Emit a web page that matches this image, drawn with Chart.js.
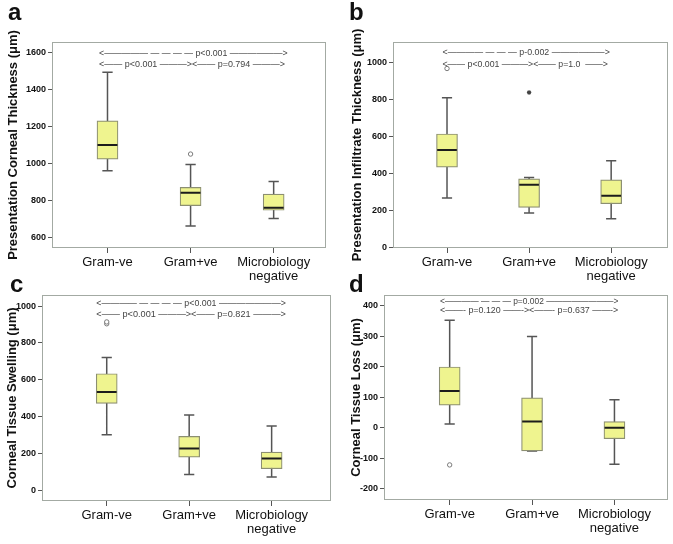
<!DOCTYPE html>
<html>
<head>
<meta charset="utf-8">
<script src="https://cdn.jsdelivr.net/npm/chart.js@4.4.1/dist/chart.umd.min.js"></script>
<style>
  body { margin: 0; background: #fff; width: 673px; height: 544px; overflow: hidden; position: relative; }
  canvas { position: absolute; }
  .tag { position: absolute; font: bold 24px/24px "Liberation Sans", Arial, sans-serif; color: #111; }
</style>
</head>
<body>
<canvas id="chartA" width="336" height="290" style="left:0;top:0"></canvas>
<canvas id="chartB" width="337" height="290" style="left:336px;top:0"></canvas>
<canvas id="chartC" width="336" height="272" style="left:0;top:272px"></canvas>
<canvas id="chartD" width="337" height="272" style="left:336px;top:272px"></canvas>
<div class="tag" style="left:8px;top:0">a</div>
<div class="tag" style="left:349px;top:0">b</div>
<div class="tag" style="left:10px;top:272px">c</div>
<div class="tag" style="left:349px;top:272px">d</div>
<script>
// --- DATA ---
const categories = [['Gram-ve'], ['Gram+ve'], ['Microbiology', 'negative']];
const categoryPos = [1, 2, 3];

// a. presentation corneal thickness
const cornealMin = [962, 663, 703];
const cornealQ1 = [1024, 773, 748];
const cornealMedian = [1101, 843, 762];
const cornealQ3 = [1232, 872, 835];
const cornealMax = [1494, 995, 903];
const cornealOutliers = [[], [1052], []];
const cornealTicks = [600, 800, 1000, 1200, 1400, 1600];
const cornealNotes = ['<————— — — — — p<0.001 ——————>', '<—— p<0.001 ———><—— p=0.794 ———>'];

// b. presentation infiltrate thickness
const infiltrateMin = [267, 187, 156];
const infiltrateQ1 = [434, 217, 237];
const infiltrateMedian = [527, 339, 280];
const infiltrateQ3 = [613, 371, 366];
const infiltrateMax = [808, 378, 468];
const infiltrateOutliers = [[966], [], []];
const infiltrateExtremes = [[], [837], []];
const infiltrateTicks = [0, 200, 400, 600, 800, 1000];
const infiltrateNotes = ['<———— — — — p-0.002 ——————>', '<—— p<0.001 ———><—— p=1.0  ——>'];

// c. corneal tissue swelling
const swellingMin = [302, 87, 73];
const swellingQ1 = [472, 181, 118];
const swellingMedian = [534, 228, 174];
const swellingQ3 = [633, 293, 208];
const swellingMax = [721, 409, 349];
const swellingOutliers = [[904, 914], [], []];
const swellingTicks = [0, 200, 400, 600, 800, 1000];
const swellingNotes = ['<———— — — — — p<0.001 ———————>', '<—— p<0.001 ———><—— p=0.821 ———>'];

// d. corneal tissue loss
const lossMin = [12, -76, -120];
const lossQ1 = [74, -76, -36];
const lossMedian = [120, 20, 0];
const lossQ3 = [199, 98, 20];
const lossMax = [352, 299, 92];
const lossOutliers = [[-122], [], []];
const lossTicks = [-200, -100, 0, 100, 200, 300, 400];
const lossNotes = ['<———— — — — p=0.002 ————————>', '<——- p=0.120 ——-><——- p=0.637 ——->'];

// --- THEME ---
const FONT = '"Liberation Sans", Arial, sans-serif';
const BOX_FILL = '#eff48f';
const BOX_EDGE = '#8c8f72';
const WHISKER = '#555555';
const FRAME = '#a3aaa3';
const CAP = 0.062;
const MED_HALF = 0.12;

const framePlugin = {
    id: 'frame',
    afterDatasetsDraw(chart) {
        const { ctx, chartArea: a } = chart;
        ctx.save();
        ctx.strokeStyle = FRAME;
        ctx.lineWidth = 1;
        ctx.strokeRect(Math.round(a.left) + 0.5, Math.round(a.top) + 0.5,
            Math.round(a.right - a.left) - 1, Math.round(a.bottom - a.top) - 1);
        ctx.restore();
    }
};

// p-value comparison lines, stretched between two x positions
const notesPlugin = {
    id: 'pnotes',
    afterDatasetsDraw(chart, args, opts) {
        const { ctx, chartArea: a } = chart;
        const xs = chart.scales.x;
        ctx.save();
        ctx.fillStyle = '#444';
        ctx.font = opts.size + 'px ' + FONT;
        ctx.textBaseline = 'middle';
        opts.lines.forEach((txt, i) => {
            const x0 = xs.getPixelForValue(opts.from);
            const x1 = xs.getPixelForValue(opts.to[i]);
            const w = ctx.measureText(txt).width;
            ctx.save();
            ctx.translate(x0, a.top + opts.dy[i]);
            ctx.scale((x1 - x0) / w, 1);
            ctx.fillText(txt, 0, 0);
            ctx.restore();
        });
        ctx.restore();
    }
};

function boxChart(id, v, stats, ticks, title, notes) {
    const [mins, q1s, meds, q3s, maxs, outliers, extremes] = stats;
    const W = v.w, H = v.h;

    const boxes = categoryPos.map((x, i) => ({ x, y: [q1s[i], q3s[i]] }));
    const whiskers = [];
    const medians = [];
    categoryPos.forEach((x, i) => {
        whiskers.push({ x, y: mins[i] }, { x, y: maxs[i] }, { x, y: null });
        whiskers.push({ x: x - CAP, y: mins[i] }, { x: x + CAP, y: mins[i] }, { x, y: null });
        whiskers.push({ x: x - CAP, y: maxs[i] }, { x: x + CAP, y: maxs[i] }, { x, y: null });
        medians.push({ x: x - MED_HALF, y: meds[i] }, { x: x + MED_HALF, y: meds[i] }, { x, y: null });
    });
    const outPts = outliers.flatMap((arr, i) => arr.map(y => ({ x: categoryPos[i], y })));
    const extPts = (extremes || [[], [], []]).flatMap((arr, i) => arr.map(y => ({ x: categoryPos[i], y })));

    return new Chart(document.getElementById(id), {
        type: 'bar',
        data: {
            datasets: [
                { type: 'line', data: medians, borderColor: '#1c1c1c', borderWidth: 2, pointRadius: 0, spanGaps: false, order: 0 },
                { type: 'scatter', data: outPts, pointStyle: 'circle', pointRadius: 2.2, borderColor: '#7a7a7a', backgroundColor: '#fff', borderWidth: 1, order: 1 },
                { type: 'scatter', data: extPts, pointStyle: 'star', pointRadius: 2.2, borderColor: '#444', borderWidth: 1.2, order: 1 },
                { type: 'bar', data: boxes, backgroundColor: BOX_FILL, borderColor: BOX_EDGE, borderWidth: 1.2, borderSkipped: false, barThickness: 21, order: 2 },
                { type: 'line', data: whiskers, borderColor: WHISKER, borderWidth: 1.5, pointRadius: 0, spanGaps: false, order: 3 }
            ]
        },
        options: {
            responsive: false,
            animation: false,
            events: [],
            layout: { padding: { left: 0, top: v.t, right: W - v.r, bottom: 0 } },
            scales: {
                x: {
                    type: 'linear',
                    offset: false,
                    min: v.xMin,
                    max: v.xMax,
                    afterBuildTicks: s => { s.ticks = categoryPos.map(value => ({ value })); },
                    afterFit: s => { s.height = H - v.b; },
                    border: { display: false },
                    grid: { offset: false, drawOnChartArea: false, drawTicks: true, tickLength: 5, color: WHISKER },
                    ticks: {
                        autoSkip: false, maxRotation: 0, padding: 3, color: '#111',
                        font: { family: FONT, size: 13, lineHeight: 1.03 },
                        callback: value => categories[value - 1]
                    }
                },
                y: {
                    min: v.yMin,
                    max: v.yMax,
                    afterBuildTicks: s => { s.ticks = ticks.map(value => ({ value })); },
                    afterFit: s => { s.width = v.l; },
                    border: { display: false },
                    grid: { drawOnChartArea: false, drawTicks: true, tickLength: 4, color: WHISKER },
                    ticks: {
                        padding: 2, color: '#111',
                        font: { family: FONT, size: 9, weight: 'bold' },
                        callback: value => String(value)
                    },
                    title: {
                        display: true, text: title, color: '#111',
                        font: { family: FONT, size: 13, weight: 'bold' },
                        padding: { top: v.titlePad, bottom: 0 }
                    }
                }
            },
            plugins: {
                legend: { display: false },
                tooltip: { enabled: false },
                pnotes: notes
            }
        },
        plugins: [framePlugin, notesPlugin]
    });
}

boxChart('chartA',
    { w: 336, h: 290, l: 52, t: 42, r: 326, b: 248, xMin: 0.332, xMax: 3.63, yMin: 544, yMax: 1658, titlePad: 6 },
    [cornealMin, cornealQ1, cornealMedian, cornealQ3, cornealMax, cornealOutliers],
    cornealTicks, 'Presentation Corneal Thickness (μm)',
    { lines: cornealNotes, from: 0.898, to: [3.168, 3.136], dy: [12, 23], size: 9 });

boxChart('chartB',
    { w: 337, h: 290, l: 57, t: 42, r: 333, b: 248, xMin: 0.342, xMax: 3.69, yMin: -2, yMax: 1109, titlePad: 13.5 },
    [infiltrateMin, infiltrateQ1, infiltrateMedian, infiltrateQ3, infiltrateMax, infiltrateOutliers, infiltrateExtremes],
    infiltrateTicks, 'Presentation Infiltrate Thickness (μm)',
    { lines: infiltrateNotes, from: 0.945, to: [2.984, 2.96], dy: [11, 22.5], size: 9 });

boxChart('chartC',
    { w: 336, h: 272, l: 42, t: 23, r: 333, b: 229, xMin: 0.215, xMax: 3.72, yMin: -57, yMax: 1060, titlePad: 5 },
    [swellingMin, swellingQ1, swellingMedian, swellingQ3, swellingMax, swellingOutliers],
    swellingTicks, 'Corneal Tissue Swelling (μm)',
    { lines: swellingNotes, from: 0.874, to: [3.173, 3.173], dy: [8.5, 19.5], size: 9 });

boxChart('chartD',
    { w: 337, h: 272, l: 48, t: 23, r: 333, b: 228, xMin: 0.203, xMax: 3.65, yMin: -237, yMax: 435, titlePad: 13 },
    [lossMin, lossQ1, lossMedian, lossQ3, lossMax, lossOutliers],
    lossTicks, 'Corneal Tissue Loss (μm)',
    { lines: lossNotes, from: 0.883, to: [3.048, 3.045], dy: [6.5, 15.8], size: 8.5 });
</script>
</body>
</html>
